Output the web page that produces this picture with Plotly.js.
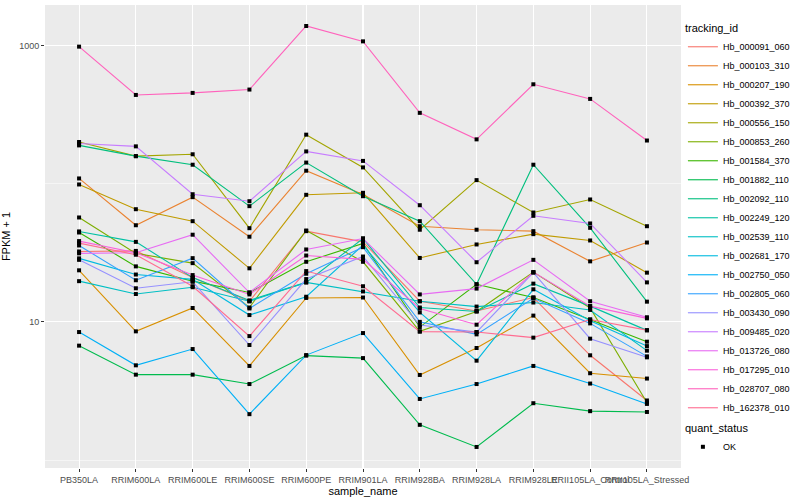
<!DOCTYPE html>
<html>
<head>
<meta charset="utf-8">
<script src="https://cdn.plot.ly/plotly-3.0.1.min.js"></script>
<style>html,body{margin:0;padding:0;background:#fff;}#chart{width:800px;height:500px;}</style>
</head>
<body>
<div id="chart"></div>
<script>
// categories (x)
const sampleNames = ["PB350LA","RRIM600LA","RRIM600LE","RRIM600SE","RRIM600PE","RRIM901LA","RRIM928BA","RRIM928LA","RRIM928LE","RRII105LA_Control","RRII105LA_Stressed"];

// series ids
const trackingIds = ["Hb_000091_060","Hb_000103_310","Hb_000207_190","Hb_000392_370","Hb_000556_150","Hb_000853_260","Hb_001584_370","Hb_001882_110","Hb_002092_110","Hb_002249_120","Hb_002539_110","Hb_002681_170","Hb_002750_050","Hb_002805_060","Hb_003430_090","Hb_009485_020","Hb_013726_080","Hb_017295_010","Hb_028707_080","Hb_162378_010"];

// FPKM + 1 values per series (one per sample)
const hb000091_060 = [32.3, 32.6, 20.9, 14.1, 45.3, 37.9, 14.1, 12.0, 15.0, 5.73, 2.70];
const hb000103_310 = [109, 50.0, 79.8, 41.3, 124, 83.4, 49.2, 46.4, 45.3, 27.4, 37.5];
const hb000207_190 = [23.6, 8.54, 12.6, 4.80, 14.9, 15.0, 4.13, 6.47, 11.1, 4.25, 3.89];
const hb000392_370 = [98.6, 65.3, 53.5, 24.4, 83.0, 85.8, 29.0, 36.3, 43.1, 38.8, 22.7];
const hb000556_150 = [200, 158, 163, 47.6, 226, 131, 46.4, 106, 61.8, 76.8, 49.2];
const hb000853_260 = [56.9, 31.3, 26.6, 12.7, 45.8, 27.2, 8.54, 11.9, 22.9, 12.6, 2.61];
const hb001584_370 = [44.3, 25.2, 19.7, 16.3, 27.2, 36.9, 9.17, 18.7, 15.0, 10.4, 7.19];
const hb001882_110 = [6.73, 4.15, 4.15, 3.55, 5.70, 5.47, 1.80, 1.245, 2.58, 2.26, 2.23];
const hb002092_110 = [189, 158, 137, 68.7, 142, 81.1, 53.5, 18.7, 137, 47.9, 14.0];
const hb002249_120 = [45.1, 37.9, 20.9, 14.3, 19.3, 40.1, 12.7, 11.9, 18.9, 13.0, 8.68];
const hb002539_110 = [19.7, 15.9, 17.8, 14.1, 19.3, 16.6, 14.1, 12.9, 13.8, 12.2, 6.19];
const hb002681_170 = [28.8, 22.0, 20.3, 11.2, 15.2, 35.9, 11.7, 5.24, 17.2, 10.2, 6.68];
const hb002750_050 = [8.44, 4.85, 6.36, 2.15, 5.75, 8.30, 2.77, 3.55, 4.80, 3.58, 2.55];
const hb002805_060 = [35.7, 20.0, 28.9, 12.5, 22.3, 34.7, 10.0, 8.12, 14.8, 9.75, 5.63];
const hb003430_090 = [28.1, 17.5, 19.5, 6.80, 20.4, 29.7, 9.48, 8.44, 22.7, 7.56, 5.54];
const hb009485_020 = [195, 186, 83.8, 74.6, 171, 146, 69.8, 27.0, 58.5, 51.5, 19.3];
const hb013726_080 = [31.3, 31.6, 42.7, 16.3, 33.4, 40.1, 15.8, 17.4, 28.1, 14.1, 10.8];
const hb017295_010 = [38.4, 31.6, 21.8, 15.8, 30.2, 28.3, 12.5, 9.54, 22.9, 13.0, 10.6];
const hb028707_080 = [979, 438, 453, 479, 1381, 1069, 325, 209, 523, 410, 205];
const hb162378_010 = [37.1, 30.6, 18.1, 7.89, 23.3, 18.1, 8.50, 8.44, 7.69, 10.4, 8.71];

const seriesValues = [hb000091_060, hb000103_310, hb000207_190, hb000392_370, hb000556_150, hb000853_260, hb001584_370, hb001882_110, hb002092_110, hb002249_120, hb002539_110, hb002681_170, hb002750_050, hb002805_060, hb003430_090, hb009485_020, hb013726_080, hb017295_010, hb028707_080, hb162378_010];

// ggplot2 default hue palette for 20 levels
const palette = ["#F8766D","#EA8331","#D89000","#C09B00","#A3A500","#7CAE00","#39B600","#00BB4E","#00BF7D","#00C1A3","#00BFC4","#00BAE0","#00B0F6","#35A2FF","#9590FF","#C77CFF","#E76BF3","#FA62DB","#FF62BC","#FF6C91"];

const statusLabel = "OK";
const yTickVals = [10, 1000];
const yMinorVals = [1, 100];

const FONT = "Liberation Sans, Arial, sans-serif";

const traces = trackingIds.map((id, i) => ({
  type: "scatter",
  mode: "lines",
  name: id,
  x: sampleNames,
  y: seriesValues[i],
  line: {color: palette[i], width: 1.1},
  legend: "legend",
  hoverinfo: "name+y"
}));

const px = [], py = [];
seriesValues.forEach(vals => vals.forEach((v, j) => { px.push(sampleNames[j]); py.push(v); }));
traces.push({
  type: "scatter",
  mode: "markers",
  name: statusLabel,
  x: px,
  y: py,
  marker: {color: "#000000", size: 4, symbol: "square"},
  legend: "legend2",
  hoverinfo: "y"
});

const layout = {
  width: 800,
  height: 500,
  margin: {l: 45, r: 116, t: 5, b: 32},
  paper_bgcolor: "#FFFFFF",
  plot_bgcolor: "#EBEBEB",
  font: {family: FONT, size: 9, color: "#4D4D4D"},
  showlegend: true,
  xaxis: {
    type: "category",
    range: [-0.6, 10.6],
    tickangle: 0,
    showgrid: true,
    gridcolor: "#FFFFFF",
    gridwidth: 1.1,
    zeroline: false,
    showline: false,
    ticks: "outside",
    ticklen: 3,
    tickwidth: 1,
    tickcolor: "#333333",
    tickfont: {family: FONT, size: 9, color: "#4D4D4D"},
    automargin: false,
    title: {text: "sample_name", font: {family: FONT, size: 11, color: "#000000"}, standoff: 2}
  },
  yaxis: {
    type: "log",
    range: [-0.057, 3.292],
    tickmode: "array",
    tickvals: yTickVals,
    ticktext: yTickVals.map(String),
    showgrid: true,
    gridcolor: "#FFFFFF",
    gridwidth: 1.1,
    zeroline: false,
    showline: false,
    ticks: "outside",
    ticklen: 3,
    tickwidth: 1,
    tickcolor: "#333333",
    tickfont: {family: FONT, size: 9, color: "#4D4D4D"},
    minor: {tickmode: "array", tickvals: yMinorVals, showgrid: true, gridcolor: "#FFFFFF", gridwidth: 0.5, ticks: ""},
    automargin: false,
    title: {text: "FPKM + 1", font: {family: FONT, size: 11, color: "#000000"}, standoff: 6}
  },
  legend: {
    x: 1.003, xanchor: "left",
    y: 0.972, yanchor: "top",
    bgcolor: "rgba(0,0,0,0)",
    font: {family: FONT, size: 9, color: "#000000"},
    title: {text: "tracking_id", font: {family: FONT, size: 11, color: "#000000"}},
    itemwidth: 30,
    tracegroupgap: 0
  },
  legend2: {
    x: 1.003, xanchor: "left",
    y: 0.108, yanchor: "top",
    bgcolor: "rgba(0,0,0,0)",
    font: {family: FONT, size: 9, color: "#000000"},
    title: {text: "quant_status", font: {family: FONT, size: 11, color: "#000000"}},
    itemwidth: 30
  }
};

Plotly.newPlot("chart", traces, layout, {displayModeBar: false, staticPlot: true});
</script>
</body>
</html>
